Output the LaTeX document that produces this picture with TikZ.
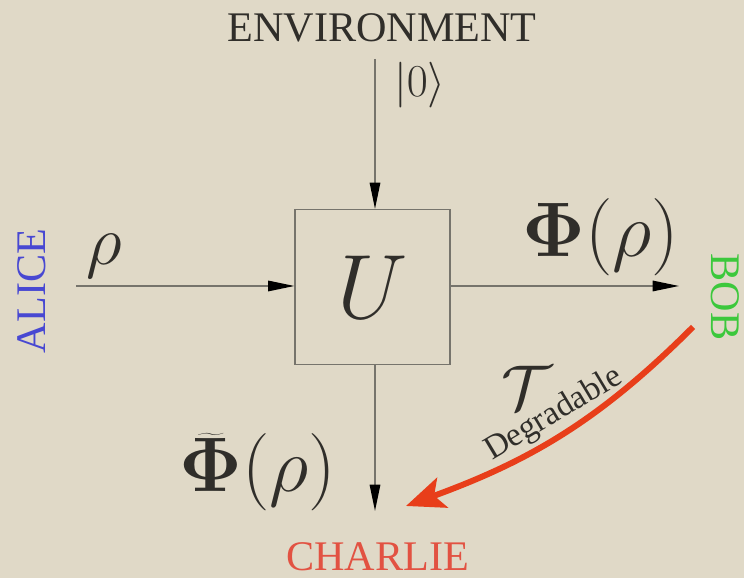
\documentclass[tikz,border=0pt]{standalone}
\usepackage{fix-cm}
\usepackage[no-math]{fontspec}
\setmainfont{Liberation Serif}
\usepackage{tikz}
\usetikzlibrary{arrows.meta, positioning, calc}

\definecolor{paper}{RGB}{224,217,199}
\definecolor{ink}{RGB}{48,46,42}
\definecolor{wire}{RGB}{118,116,108}
\definecolor{alicecol}{RGB}{72,72,210}
\definecolor{bobcol}{RGB}{60,200,60}
\definecolor{charliecol}{RGB}{226,82,66}
\definecolor{degcol}{RGB}{232,62,26}

\begin{document}
\begin{tikzpicture}[
        party/.style={font=\fontsize{24}{28}\selectfont, inner sep=0pt},
        formula/.style={text=ink, inner sep=0pt, font=\fontsize{44}{50}\selectfont},
        gate/.style={rectangle, draw=wire, line width=0.7pt, minimum size=3.1cm, inner sep=0pt, text=ink, font=\fontsize{52}{60}\selectfont},
        flow/.style={draw=wire, line width=0.8pt, -{Triangle[length=15pt, width=6pt, color=black]}},
        degrade/.style={draw=degcol, line width=3.4pt, -{Stealth[length=22pt, width=18pt, inset=5pt]}}
    ]

    % --- CANVAS ---
    \fill[paper] (0,0) rectangle (14.88,11.56);
    \useasboundingbox (0,0) rectangle (14.88,11.56);

    % --- CHANNEL ---
    \node (box) [gate] at (7.45,5.82) {$U$};

    % --- PARTIES ---
    \node (env) [party, text=ink] at (7.64,11.0) {ENVIRONMENT};
    \node (alice) [party, text=alicecol, rotate=90] at (0.64,5.74) {ALICE};
    \node (bob) [party, text=bobcol, rotate=-90] at (14.5,5.62) {BOB};
    \node (charlie) [party, text=charliecol] at (7.55,0.43) {CHARLIE};

    % --- STATES ---
    \node (ket) [formula, font=\fontsize{26}{30}\selectfont] at (8.4,9.86) {$|0\rangle$};
    \node (rho) [formula, font=\fontsize{40}{46}\selectfont] at (2.08,6.44) {$\rho$};
    \node (out) [formula] at (12.02,6.82) {$\mathbf{\Phi}(\rho)$};
    \node (comp) [formula] at (5.16,2.12) {$\widetilde{\mathbf{\Phi}}(\rho)$};
    \node (map) [formula, font=\fontsize{36}{42}\selectfont] at (10.54,3.8) {$\mathcal{T}$};

    % --- FREE ENDS ---
    \coordinate (envin) at (7.5,10.38);
    \coordinate (alicein) at (1.52,5.84);
    \coordinate (bobout) at (13.58,5.84);
    \coordinate (charlieout) at (7.5,1.34);
    \coordinate (degfrom) at (13.86,5.02);
    \coordinate (degto) at (8.12,1.44);

    % --- WIRES ---
    \draw [flow] (envin) -- (envin |- box.north);
    \draw [flow] (alicein) -- (alicein -| box.west);
    \draw [flow] (box.east |- bobout) -- (bobout);
    \draw [flow] (charlieout |- box.south) -- (charlieout);

    % --- DEGRADING MAP ---
    \draw [degrade] (degfrom) to[out=225, in=20] (degto);
    \node (deg) [text=ink, inner sep=0pt, font=\fontsize{19}{21}\selectfont, rotate=31] at (11.08,3.27) {Degradable};

\end{tikzpicture}
\end{document}
